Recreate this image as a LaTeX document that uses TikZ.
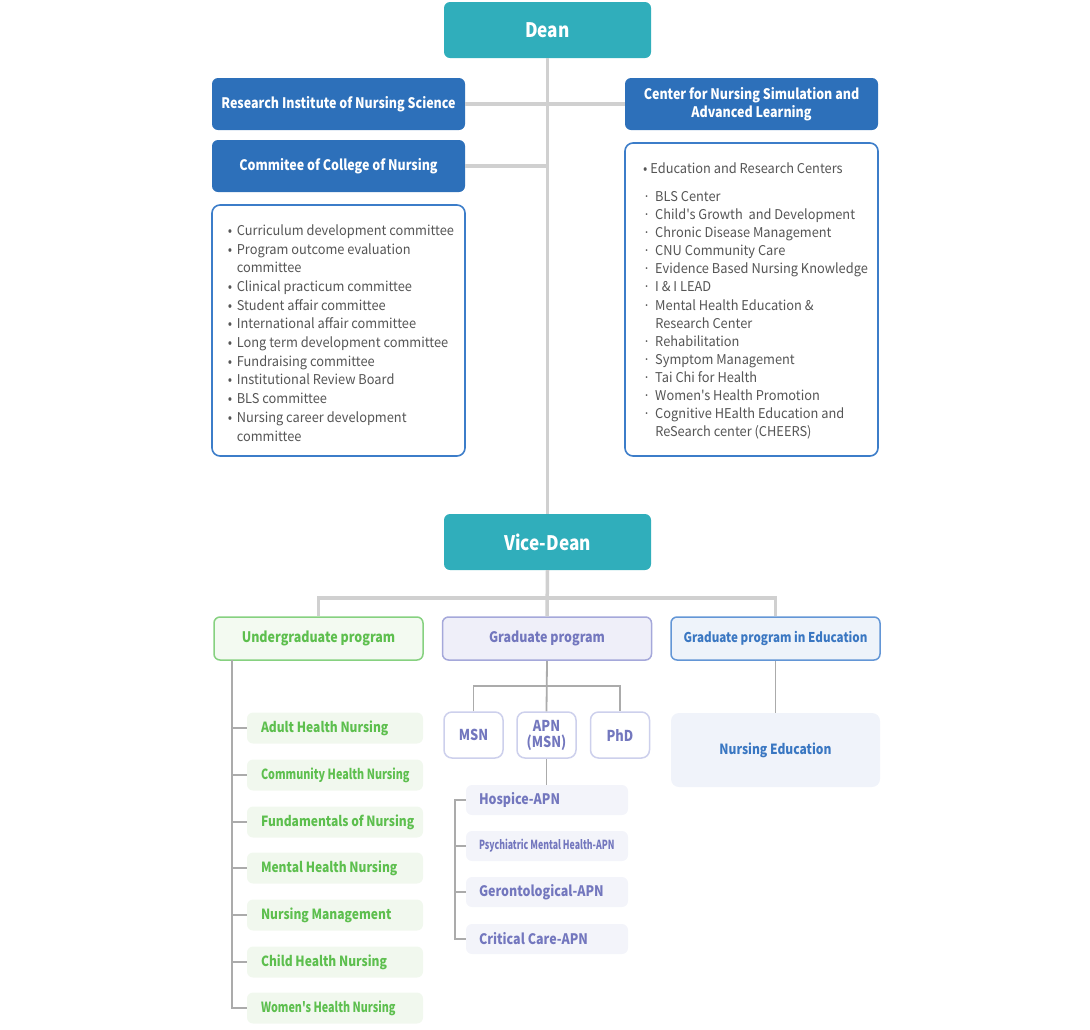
\documentclass[tikz,border=0pt]{standalone}
\usepackage{fontspec}
\setmainfont{Noto Sans CJK KR}
\newfontfamily\cnd{Noto Sans CJK KR}[FakeStretch=0.86]
\newfontfamily\cndb{Noto Sans CJK KR}[FakeStretch=0.77]
\newfontfamily\cndx{Noto Sans CJK KR}[FakeStretch=0.70]
\newfontfamily\lst{Noto Sans CJK KR}[FakeStretch=0.95]
\definecolor{cDean}{HTML}{30AEBB}
\definecolor{cBlue}{HTML}{2D70BA}
\definecolor{cListB}{HTML}{3C7DC9}
\definecolor{cTxt}{HTML}{555555}
\definecolor{cLine}{HTML}{D0D0D0}
\definecolor{cThin}{HTML}{ABABAB}
\definecolor{cGrT}{HTML}{5DBF4E}
\definecolor{cGrB}{HTML}{86D180}
\definecolor{cGrF}{HTML}{F3FAF1}
\definecolor{cGrI}{HTML}{F1F8EE}
\definecolor{cPuT}{HTML}{7377BE}
\definecolor{cPuB}{HTML}{A5A8DA}
\definecolor{cPuF}{HTML}{EFEFF9}
\definecolor{cPuI}{HTML}{F3F4FA}
\definecolor{cPuS}{HTML}{CDD0EC}
\definecolor{cBlT}{HTML}{3A77C2}
\definecolor{cBlB}{HTML}{6396D6}
\definecolor{cBlF}{HTML}{EEF3FA}
\definecolor{cBlI}{HTML}{F0F3FA}
\newcommand{\fs}[2]{\fontsize{#1}{#2}\selectfont}
\newcommand{\lb}[2]{\makebox[#1][l]{#2}}
\tikzset{
  every node/.style={inner sep=0pt},
  headbox/.style={rounded corners=6pt, fill=cDean, text=white, font=\cnd\fs{20}{24}\bfseries, minimum width=207pt, minimum height=56pt},
  bluebox/.style={rounded corners=6pt, fill=cBlue, text=white, font=\cnd\fs{14.5}{17.5}\bfseries, minimum width=253pt, minimum height=52pt, align=center},
  listframe/.style={rounded corners=8pt, draw=cListB, line width=1.6pt, fill=white, minimum width=253pt},
  listtext/.style={text=cTxt, font=\lst\fs{13.5}{18.7}},
  conn/.style={draw=cLine, line width=3.5pt},
  thinconn/.style={draw=cThin, line width=1.8pt},
  progbox/.style={rounded corners=6pt, line width=1.5pt, minimum width=209pt, minimum height=43pt, font=\cnd\fs{14.5}{17}\bfseries},
  ugitem/.style={rounded corners=6pt, fill=cGrI, text=cGrT, minimum height=31pt, inner xsep=14pt, font=\cnd\fs{14}{17}\bfseries},
  apnitem/.style={rounded corners=6pt, fill=cPuI, text=cPuT, minimum height=30pt, inner xsep=13pt, font=\cnd\fs{14.5}{17}\bfseries},
  degbox/.style={rounded corners=8pt, draw=cPuS, line width=1.5pt, fill=white, text=cPuT, minimum width=59pt, minimum height=46pt, align=center, font=\cnd\fs{15}{17}\bfseries},
}
\begin{document}
\begin{tikzpicture}[x=1pt,y=-1pt]
\useasboundingbox (0,0) rectangle (1090,1029);
% top section
\node[headbox] (dean) at (547.5,30) {Dean};
\node[headbox] (vdean) at (547.5,542) {Vice-Dean};
\node[bluebox] (ri) at (338.5,104) {Research Institute of Nursing Science};
\node[bluebox] (cn) at (751.5,104) {Center for Nursing Simulation and\\Advanced Learning};
\node[bluebox] (cc) at (338.5,166) {Commitee of College of Nursing};
\draw[conn] (dean.south) -- (vdean.north);
\draw[conn] (ri.east) -- (cn.west);
\draw[conn] (cc.east) -- (cc.east -| dean.south);
\node[listframe, minimum height=251pt] (clist) at (338.5,330.5) {};
\node[listtext] (clistt) at (341,334.5) {%
\renewcommand{\arraystretch}{1}%
\begin{tabular}{@{}l@{\hspace{4.5pt}}l@{}}
•&Curriculum development committee\\
•&Program outcome evaluation\\
&committee\\
•&Clinical practicum committee\\
•&Student affair committee\\
•&International affair committee\\
•&Long term development committee\\
•&Fundraising committee\\
•&Institutional Review Board\\
•&BLS committee\\
•&Nursing career development\\
&committee
\end{tabular}};
\node[listframe, minimum height=313pt] (rlist) at (751.5,299.5) {};
\node[listtext] (rlistt) at (755.5,301.5) {%
\renewcommand{\arraystretch}{1}%
\begin{tabular}{@{}l@{\hspace{5pt}}l@{}}
\multicolumn{2}{@{}l@{}}{•\hspace{3pt}Education and Research Centers}\\[9pt]
·&BLS Center\\[-0.6pt]
·&Child's Growth\ \ and Development\\[-0.6pt]
·&Chronic Disease Management\\[-0.6pt]
·&CNU Community Care\\[-0.6pt]
·&Evidence Based Nursing Knowledge\\[-0.6pt]
·&I \& I LEAD\\[-0.6pt]
·&Mental Health Education \&\\[-0.6pt]
&Research Center\\[-0.6pt]
·&Rehabilitation\\[-0.6pt]
·&Symptom Management\\[-0.6pt]
·&Tai Chi for Health\\[-0.6pt]
·&Women's Health Promotion\\[-0.6pt]
·&Cognitive HEalth Education and\\[-0.6pt]
&ReSearch center (CHEERS)
\end{tabular}};
% programs
\node[progbox, draw=cGrB, fill=cGrF, text=cGrT] (ug) at (318.5,638.5) {Undergraduate program};
\node[progbox, draw=cPuB, fill=cPuF, text=cPuT] (gp) at (547,638.5) {Graduate program};
\node[progbox, draw=cBlB, fill=cBlF, text=cBlT, font=\cnd\fs{13.5}{17}\bfseries] (ge) at (775.5,638.5) {Graduate program in Education};
\coordinate (bus) at (547,598);
\draw[conn] (vdean.south) -- (gp.north);
\draw[conn] (ug.north) |- (bus) -| (ge.north);
% undergraduate
\node[ugitem] (u1) at (335,728) {\lb{148pt}{Adult Health Nursing}};
\node[ugitem, font=\cndb\fs{14}{16}\bfseries] (u2) at (335,775) {\lb{148pt}{Community Health Nursing}};
\node[ugitem] (u3) at (335,822) {\lb{148pt}{Fundamentals of Nursing}};
\node[ugitem] (u4) at (335,868) {\lb{148pt}{Mental Health Nursing}};
\node[ugitem] (u5) at (335,915) {\lb{148pt}{Nursing Management}};
\node[ugitem] (u6) at (335,962) {\lb{148pt}{Child Health Nursing}};
\node[ugitem, font=\cndb\fs{14}{16}\bfseries] (u7) at (335,1008) {\lb{148pt}{Women's Health Nursing}};
\coordinate (usp) at (232,660);
\draw[thinconn] (usp) |- (u7.west);
\foreach \i in {1,...,6} \draw[thinconn] (usp |- u\i.west) -- (u\i.west);
% graduate
\node[degbox] (msn) at (473.5,735) {MSN};
\node[degbox, font=\cnd\fs{15}{16}\bfseries] (apn) at (546.5,735) {APN\\(MSN)};
\node[degbox] (phd) at (620,735) {PhD};
\coordinate (gbus) at (546.5,686);
\draw[thinconn] (gp.south) -- (apn.north);
\draw[thinconn] (msn.north) |- (gbus) -| (phd.north);
\node[apnitem] (a1) at (547,800) {\lb{136pt}{Hospice-APN}};
\node[apnitem, font=\cndx\fs{12.5}{15}\bfseries] (a2) at (547,846) {\lb{136pt}{Psychiatric Mental Health-APN}};
\node[apnitem] (a3) at (547,892) {\lb{136pt}{Gerontological-APN}};
\node[apnitem] (a4) at (547,939) {\lb{136pt}{Critical Care-APN}};
\draw[thinconn] (apn.south) -- (apn.south |- a1.north);
\coordinate (asp) at (455,800);
\draw[thinconn] (a1.west) -- (asp) |- (a4.west);
\draw[thinconn] (asp |- a2.west) -- (a2.west);
\draw[thinconn] (asp |- a3.west) -- (a3.west);
% education
\node[rounded corners=8pt, fill=cBlI, text=cBlT, minimum width=209pt, minimum height=74pt, font=\cnd\fs{14}{17}\bfseries] (ne) at (775.5,750) {Nursing Education};
\draw[thinconn] (ge.south) -- (ne.north);
\end{tikzpicture}
\end{document}
